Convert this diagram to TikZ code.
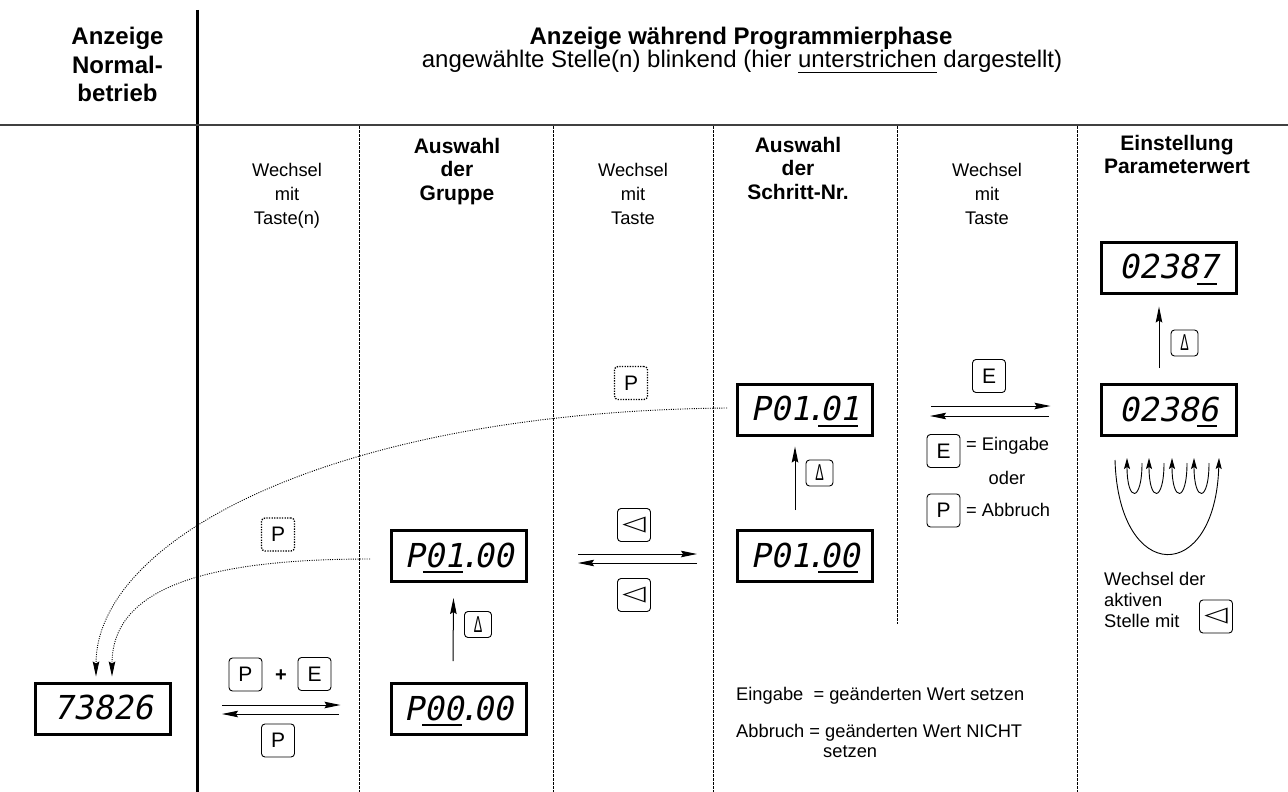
\documentclass[tikz,border=0pt]{standalone}
\usepackage{fontspec}
\setmainfont{Liberation Sans}
\newfontfamily\segfont{DejaVu Sans Mono}[FakeSlant=0.2]
\newfontfamily\symfont{DejaVu Sans}
\usetikzlibrary{arrows.meta,calc}
\newcommand\segul[1]{\leavevmode\setbox0\hbox{#1}\rlap{\kern-1.5pt\raisebox{-6pt}{\rule{\wd0}{2pt}}}\box0\relax}
\newcommand\segdot{\kern-5pt.\kern-5pt\relax}
\newcommand\txtul[1]{\leavevmode\setbox0\hbox{#1}\rlap{\raisebox{-5.5pt}{\rule{\wd0}{1.6pt}}}\box0\relax}
\newcommand\dlt{\scalebox{0.55}[1]{Δ}}
\newcommand\ltri{\scalebox{1.45}[1.0]{\symfont ◁}}
\begin{document}
\begin{tikzpicture}[x=1pt,y=-1pt,
  every node/.style={inner sep=0pt},
  disp/.style={draw, line width=3pt, minimum width=135pt, minimum height=51pt,
    text height=24pt, text depth=2pt, font=\segfont\fontsize{33}{33}\selectfont},
  key/.style={draw, line width=0.9pt, rounded corners=3.5pt, minimum width=33pt,
    minimum height=33pt, font=\fontsize{21}{21}\selectfont},
  skey/.style={key, minimum width=27pt, minimum height=26pt, font=\fontsize{23}{23}\selectfont},
  dkey/.style={key, line width=1.3pt, dash pattern=on 1.3pt off 1.3pt},
  arr/.style={line width=1pt, -{Stealth[length=16pt,width=6.5pt,inset=2pt]}},
  darr/.style={line width=0.9pt, dash pattern=on 1pt off 1.3pt, -{Stealth[length=15pt,width=6.5pt,inset=2pt]}},
  sarr/.style={line width=0.9pt, -{Stealth[length=11pt,width=6pt,inset=2pt]}},
  colsep/.style={line width=0.8pt, dash pattern=on 2.5pt off 1.5pt},
  small/.style={font=\fontsize{18.3}{24}\selectfont},
  hdr/.style={font=\bfseries\fontsize{21}{23.5}\selectfont, align=center, anchor=north}]
\useasboundingbox (0,0) rectangle (1288,792);

% frame lines
\draw[line width=3pt] (197,10) -- (197,792);
\draw[line width=1.5pt, black!75] (0,125) -- (1288,125);
\foreach \x in {359,553,713,1077} \draw[colsep] (\x,126) -- (\x,792);
\draw[colsep] (897,126) -- (897,624);

% headers
\node[font=\bfseries\fontsize{24}{28.5}\selectfont, align=center, anchor=north] (hL) at (117.5,27) {Anzeige\\Normal-\\betrieb};
\node[font=\bfseries\fontsize{24}{24}\selectfont, anchor=base] (hM) at (741,45) {Anzeige während Programmierphase};
\node[font=\fontsize{24}{24}\selectfont, anchor=base] (hS) at (742,68) {angewählte Stelle(n) blinkend (hier \txtul{unterstrichen} dargestellt)};

\node[small, align=center, anchor=north] (c1) at (287,163) {Wechsel\\mit\\Taste(n)};
\node[hdr] (c2) at (457,138) {Auswahl\\der\\Gruppe};
\node[small, align=center, anchor=north] (c3) at (633,163) {Wechsel\\mit\\Taste};
\node[hdr] (c4) at (798,137) {Auswahl\\der\\Schritt-Nr.};
\node[small, align=center, anchor=north] (c5) at (987,163) {Wechsel\\mit\\Taste};
\node[hdr] (c6) at (1177,135) {Einstellung\\Parameterwert};

% displays
\node[disp] (d0) at (103,708.5) {73826};
\node[disp] (dA) at (458.5,709) {P\segul{00}\segdot00};
\node[disp] (dB) at (459,556) {P\segul{01}\segdot00};
\node[disp] (dC) at (805,556) {P01\segdot\segul{00}};
\node[disp] (dD) at (805,409.5) {P01\segdot\segul{01}};
\node[disp] (dE) at (1168.5,410) {0238\segul{6}};
\node[disp] (dF) at (1168.5,267.5) {0238\segul{7}};

% vertical arrows with up keys
\draw[arr] ($(dA.north)+(-5.5,-21)$) -- ($(dB.south)+(-5.5,15)$);
\node[skey] (kB) at (478,624.5) {\dlt};
\draw[arr] ($(dC.north)+(-10,-19)$) -- ($(dD.south)+(-10,10)$);
\node[skey] (kC) at (819.5,473) {\dlt};
\draw[arr] ($(dE.north)+(-9.5,-15)$) -- ($(dF.south)+(-9.5,12)$);
\node[skey] (kE) at (1184.5,343) {\dlt};

% normal <-> group
\draw[arr] ($(d0.east)+(50,-3.5)$) -- ($(dA.west)+(-49,-4)$);
\draw[arr] ($(dA.west)+(-51,5)$) -- ($(d0.east)+(50,5.5)$);
\node[key] (kP1) at (245.5,674.5) {P};
\node[font=\bfseries\fontsize{20}{20}\selectfont] (plus) at (281,676) {+};
\node[key] (kE1) at (314.5,674) {E};
\node[key] (kP2) at (278,740.5) {P};

% group <-> step
\draw[arr] ($(dB.east)+(50,-2)$) -- ($(dC.west)+(-39,-2)$);
\draw[arr] ($(dC.west)+(-39,7)$) -- ($(dB.east)+(50,7)$);
\node[key] (kL1) at (634,525) {\ltri};
\node[key] (kL2) at (634,595) {\ltri};

% step <-> value
\draw[arr] ($(dD.east)+(57,-3.5)$) -- ($(dE.west)+(-49,-4)$);
\draw[arr] ($(dE.west)+(-51,6)$) -- ($(dD.east)+(56,6.5)$);
\node[key] (kE2) at (989,376) {E};
\node[key] (kE3) at (943.5,451) {E};
\node[small, anchor=base west] (tE) at (966,450) {= Eingabe};
\node[small, anchor=base] (tO) at (1007,484) {oder};
\node[key] (kP3) at (943.5,510.5) {P};
\node[small, anchor=base west] (tA) at (966,516) {= Abbruch};

% dotted returns to normal display
\node[dkey] (kD1) at (278,534.5) {P};
\node[dkey] (kD2) at (631,383) {P};
\draw[darr] ($(dB.west)+(-20,3)$) .. controls (200,559) and (112,590) .. ($(d0.north)+(9,-5)$);
\draw[darr] ($(dD.west)+(-9,-1.5)$) .. controls (330,412) and (96,540) .. ($(d0.north)+(-7,-5)$);

% digit selection loops
\draw[sarr] ($(dE.south)+(-53.5,23)$) .. controls ($(dE.south)+(-50,148)$) and ($(dE.south)+(47,148)$) .. ($(dE.south)+(50.5,21)$);
\foreach \t/\h in {-26.5/-41.5, -4.5/-19.5, 18.5/3.5, 40.5/25.5}
  \draw[sarr] ($(dE.south)+(\t,26)$) .. controls ($(dE.south)+(\t,66)$) and ($(dE.south)+(\h,66)$) .. ($(dE.south)+(\h,21)$);
\node[font=\fontsize{18.3}{21}\selectfont, align=left, anchor=north west] (tW) at (1104,572) {Wechsel der\\aktiven\\Stelle mit};
\node[key] (kL3) at (1216,616.5) {\ltri};

% notes
\node[small, anchor=base west] (n1) at (736,700) {Eingabe\ \ = geänderten Wert setzen};
\node[font=\fontsize{18.3}{20.5}\selectfont, align=left, anchor=north west] (n2) at (736,724) {Abbruch = geänderten Wert NICHT\\\hspace*{87pt}setzen};
\end{tikzpicture}
\end{document}
